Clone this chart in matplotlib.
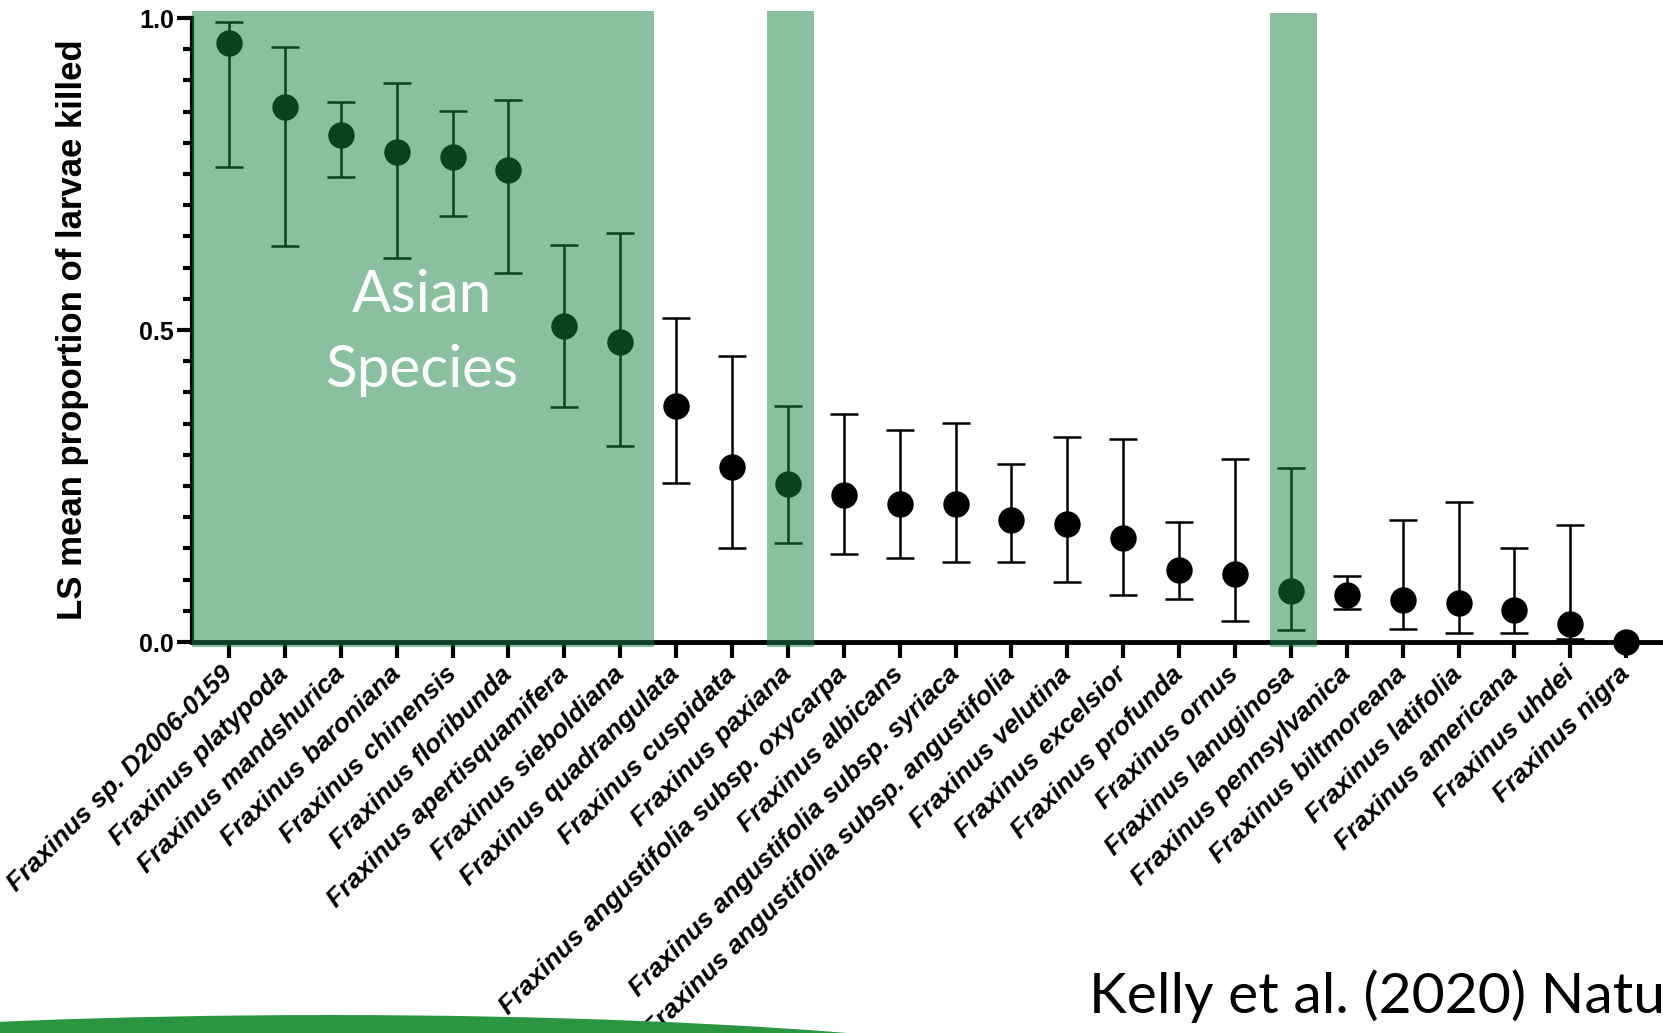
#Fraxinus species - LS mean proportion of larvae killed

#Importing libraries
import numpy as np
import matplotlib.pyplot as plt
from matplotlib.patches import Rectangle, Ellipse
from matplotlib.ticker import MultipleLocator

#Data
species = ['Fraxinus sp. D2006-0159', 'Fraxinus platypoda', 'Fraxinus mandshurica',
           'Fraxinus baroniana', 'Fraxinus chinensis', 'Fraxinus floribunda',
           'Fraxinus apertisquamifera', 'Fraxinus sieboldiana', 'Fraxinus quadrangulata',
           'Fraxinus cuspidata', 'Fraxinus paxiana', 'Fraxinus angustifolia subsp. oxycarpa',
           'Fraxinus albicans', 'Fraxinus angustifolia subsp. syriaca',
           'Fraxinus angustifolia subsp. angustifolia', 'Fraxinus velutina',
           'Fraxinus excelsior', 'Fraxinus profunda', 'Fraxinus ornus',
           'Fraxinus lanuginosa', 'Fraxinus pennsylvanica', 'Fraxinus biltmoreana',
           'Fraxinus latifolia', 'Fraxinus americana', 'Fraxinus uhdei', 'Fraxinus nigra']
mean  = [0.960, 0.857, 0.813, 0.786, 0.778, 0.757, 0.507, 0.481, 0.378, 0.280,
         0.253, 0.235, 0.221, 0.221, 0.196, 0.189, 0.166, 0.116, 0.109, 0.081,
         0.075, 0.068, 0.063, 0.052, 0.029, 0.000]
upper = [0.994, 0.953, 0.865, 0.896, 0.851, 0.869, 0.637, 0.655, 0.519, 0.459,
         0.379, 0.366, 0.340, 0.351, 0.286, 0.329, 0.325, 0.192, 0.294, 0.279,
         0.106, 0.196, 0.225, 0.150, 0.187, 0.000]
lower = [0.761, 0.635, 0.745, 0.615, 0.683, 0.592, 0.376, 0.314, 0.255, 0.151,
         0.158, 0.141, 0.134, 0.129, 0.129, 0.096, 0.075, 0.069, 0.034, 0.019,
         0.053, 0.021, 0.015, 0.015, 0.005, 0.000]

#Asian species highlighted (first block, paxiana, lanuginosa)
asian_block = (0, 7)
asian_single = [10, 19]

x = np.arange(len(species))
mean = np.array(mean)
yerr = [mean - np.array(lower), np.array(upper) - mean]

fig = plt.figure(figsize=(16.63, 10.33), dpi=100)
ax = fig.add_axes([0.1155, 0.3785, 0.896, 0.604])

#Error bars and points
eb = ax.errorbar(x, mean, yerr=yerr, fmt='none', ecolor='black', elinewidth=1.8,
                 capsize=10, capthick=1.8, zorder=3)
for art in eb.lines[1] + eb.lines[2]:
    art.set_clip_on(False)
ax.plot(x, mean, 'o', color='black', ms=18, clip_on=False, zorder=4)

#Green highlight boxes on top
green = '#168040'
ax.add_patch(Rectangle((-0.66, -0.008), asian_block[1] + 0.6 + 0.66, 1.019, color=green,
                       alpha=0.5, lw=0, clip_on=False, zorder=6))
for i in asian_single:
    ax.add_patch(Rectangle((i - 0.38, -0.008), 0.84, 1.019 - 0.003 * (i == 19), color=green,
                           alpha=0.5, lw=0, clip_on=False, zorder=6))

ax.text(3.45, 0.529, 'Asian', color='white', fontsize=42, family='Lato',
        ha='center', va='baseline', zorder=7)
ax.text(3.45, 0.409, 'Species', color='white', fontsize=42, family='Lato',
        ha='center', va='baseline', zorder=7)

#Axes styling
ax.set_xlim(-0.66, 26)
ax.set_ylim(0, 1.0)
for s in ['top', 'right']:
    ax.spines[s].set_visible(False)
ax.spines['left'].set_linewidth(3)
ax.spines['bottom'].set_linewidth(3.5)

ax.set_yticks([0, 0.5, 1.0])
ax.set_yticklabels(['0.0', '0.5', '1.0'], fontsize=18, fontweight='bold',
                   family=['Liberation Sans Narrow', 'Liberation Sans'])
ax.yaxis.set_minor_locator(MultipleLocator(0.05))
ax.tick_params(axis='y', which='major', length=11, width=3, pad=2)
ax.tick_params(axis='y', which='minor', length=6.5, width=3)

ax.set_xticks(x)
ax.set_xticklabels(species, rotation=45, ha='right', va='center', rotation_mode='anchor',
                   fontsize=19, fontweight='bold', fontstyle='italic', family='Liberation Sans')
ax.tick_params(axis='x', length=11.5, width=3, pad=9)

ax.set_ylabel('LS mean proportion of larvae killed', fontsize=25, fontweight='bold',
              family='Liberation Sans', labelpad=36)

#Slide decorations
fig.patches.append(Ellipse((330 / 1663, 1 - 1093 / 1033), 2 * 811 / 1663, 2 * 78 / 1033,
                           transform=fig.transFigure, color='#2a9641', lw=0))
fig.text(1089 / 1663, 1 - 1013 / 1033, 'Kelly et al. (2020) Nature', fontsize=41,
         family='Lato', va='baseline', ha='left')

plt.savefig('out.png', dpi=100)
